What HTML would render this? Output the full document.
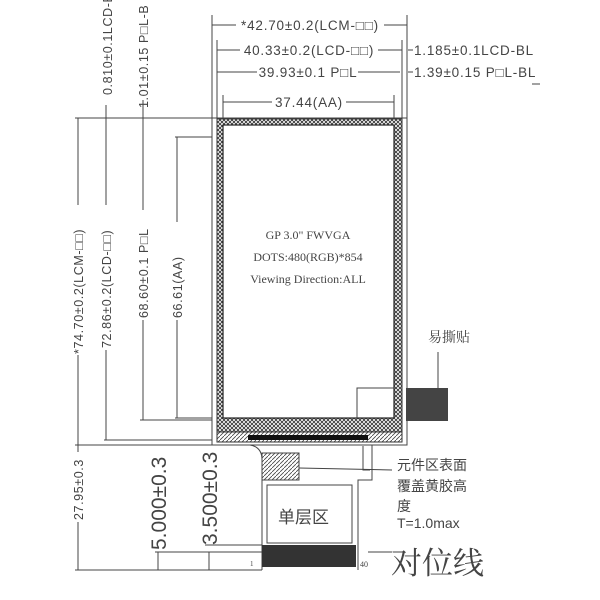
<!DOCTYPE html>
<html><head><meta charset="utf-8"><style>
html,body{margin:0;padding:0;background:#fff;}
svg{display:block}
text{font-family:"Liberation Sans","Noto Sans CJK SC",sans-serif;fill:#444}
</style></head><body>
<svg width="600" height="600" viewBox="0 0 600 600" xmlns="http://www.w3.org/2000/svg">
<defs>
<pattern id="xh" width="4" height="4" patternUnits="userSpaceOnUse">
<rect width="4" height="4" fill="#fff"/>
<path d="M0,0L4,4M4,0L0,4" stroke="#333" stroke-width="0.9"/>
</pattern>
<pattern id="dg" width="4" height="4" patternUnits="userSpaceOnUse">
<rect width="4" height="4" fill="#fff"/>
<path d="M0,4L4,0" stroke="#444" stroke-width="0.8"/>
</pattern>
</defs>
<g stroke="#444" stroke-width="1" fill="none">
<line x1="212" y1="15" x2="212" y2="118"/>
<line x1="407" y1="15" x2="407" y2="118"/>
<line x1="217" y1="40" x2="217" y2="118"/>
<line x1="402" y1="40" x2="402" y2="118"/>
<line x1="223" y1="95" x2="223" y2="125"/>
<line x1="394" y1="95" x2="394" y2="125"/>
<line x1="212" y1="25" x2="236" y2="25"/><line x1="384" y1="25" x2="407" y2="25"/>
<line x1="217" y1="50" x2="240" y2="50"/><line x1="378" y1="50" x2="402" y2="50"/>
<line x1="217" y1="72" x2="257" y2="72"/><line x1="358" y1="72" x2="400" y2="72"/>
<line x1="223" y1="102" x2="272" y2="102"/><line x1="346" y1="102" x2="394" y2="102"/>
<line x1="408" y1="50" x2="413" y2="50"/><line x1="408" y1="72" x2="413" y2="72"/>
<line x1="75" y1="118" x2="218" y2="118"/>
<line x1="75" y1="445" x2="218" y2="445"/>
<line x1="104" y1="440" x2="218" y2="440"/>
<line x1="140" y1="420" x2="218" y2="420"/>
<line x1="175" y1="418" x2="218" y2="418"/>
<line x1="175" y1="137" x2="218" y2="137"/>
<line x1="78" y1="118" x2="78" y2="205"/><line x1="78" y1="355" x2="78" y2="445"/>
<line x1="106" y1="118" x2="106" y2="205"/><line x1="106" y1="350" x2="106" y2="440"/>
<line x1="143" y1="118" x2="143" y2="210"/><line x1="143" y1="320" x2="143" y2="420"/>
<line x1="177" y1="137" x2="177" y2="222"/><line x1="177" y1="320" x2="177" y2="418"/>
<line x1="106" y1="105" x2="106" y2="118"/>
<line x1="143" y1="100" x2="143" y2="118"/>
<line x1="78" y1="445" x2="78" y2="452"/><line x1="78" y1="522" x2="78" y2="570"/>
<line x1="75" y1="570" x2="262" y2="570"/>
<line x1="158" y1="552" x2="158" y2="570"/>
<line x1="155" y1="552" x2="262" y2="552"/>
<line x1="209" y1="552" x2="209" y2="570"/>
<line x1="205" y1="545" x2="262" y2="545"/>
</g>
<rect x="212" y="118" width="195" height="327" fill="#fff" stroke="#444"/>
<rect x="217" y="119" width="185" height="323" fill="url(#xh)" stroke="#333"/>
<rect x="217" y="432" width="185" height="10" fill="url(#dg)" stroke="#333"/>
<rect x="223" y="125" width="171" height="293" fill="#fff" stroke="#222" stroke-width="1.2"/>
<rect x="248" y="435" width="120" height="5" fill="#111"/>
<rect x="406" y="388" width="42" height="33" fill="#444"/>
<g stroke="#444" fill="none">
<line x1="438" y1="352" x2="438" y2="412"/>
<polyline points="357,418 357,388 394,388"/>
<path d="M250,445 Q262,447 262,460 L262,570 M372,445 L372,480 L358,480 L358,570"/>
<polyline points="363,446 363,470 370,470"/>
<line x1="299" y1="468" x2="392" y2="470"/>
<line x1="368" y1="552" x2="392" y2="552"/>
</g>
<rect x="262" y="453" width="37" height="27" fill="url(#dg)" stroke="#444"/>
<rect x="267" y="485" width="85" height="58" fill="#fff" stroke="#444"/>
<rect x="262" y="545" width="94" height="22" fill="#333"/>
<g font-size="13.5" letter-spacing="0.8">
<text x="310" y="30" text-anchor="middle">*42.70±0.2(LCM-□□)</text>
<text x="309" y="55" text-anchor="middle">40.33±0.2(LCD-□□)</text>
<text x="308" y="77" text-anchor="middle">39.93±0.1 P□L</text>
<text x="309" y="107" text-anchor="middle">37.44(AA)</text>
<text x="414" y="55">1.185±0.1LCD-BL</text>
<text x="414" y="77">1.39±0.15 P□L-BL</text>
</g>
<line x1="532" y1="84" x2="540" y2="84" stroke="#444"/>
<g font-size="12" text-anchor="middle">
<text x="308" y="239" style="font-family:'Liberation Serif',serif">GP 3.0" FWVGA</text>
<text x="308" y="261" style="font-family:'Liberation Serif',serif">DOTS:480(RGB)*854</text>
<text x="308" y="283" style="font-family:'Liberation Serif',serif">Viewing Direction:ALL</text>
</g>
<g font-size="12.5" letter-spacing="0.6">
<text transform="translate(112,95) rotate(-90)">0.810±0.1LCD-BL</text>
<text transform="translate(148,108) rotate(-90)">1.01±0.15 P□L-B</text>
<text transform="translate(83,354) rotate(-90)">*74.70±0.2(LCM-□□)</text>
<text transform="translate(111,348) rotate(-90)">72.86±0.2(LCD-□□)</text>
<text transform="translate(148,318) rotate(-90)">68.60±0.1 P□L</text>
<text transform="translate(182,318) rotate(-90)">66.61(AA)</text>
<text transform="translate(83,520) rotate(-90)">27.95±0.3</text>
</g>
<text transform="translate(166,550) rotate(-90)" font-size="21">5.000±0.3</text>
<text transform="translate(217,545) rotate(-90)" font-size="21">3.500±0.3</text>
<text x="428" y="342" font-size="14" style="font-family:'Noto Serif CJK SC',serif">易撕贴</text>
<text x="397" y="470" font-size="14">元件区表面</text>
<text x="397" y="491" font-size="14">覆盖黄胶高</text>
<text x="397" y="511" font-size="14">度</text>
<text x="397" y="528" font-size="14">T=1.0max</text>
<text x="278" y="523" font-size="17">单层区</text>
<text x="250" y="566" font-size="7" style="font-family:'Liberation Serif',serif">1</text>
<text x="360" y="567" font-size="8" style="font-family:'Liberation Serif',serif">40</text>
<text x="391" y="574" font-size="31" style="font-family:'Noto Serif CJK SC',serif">对位线</text>
</svg>
</body></html>
